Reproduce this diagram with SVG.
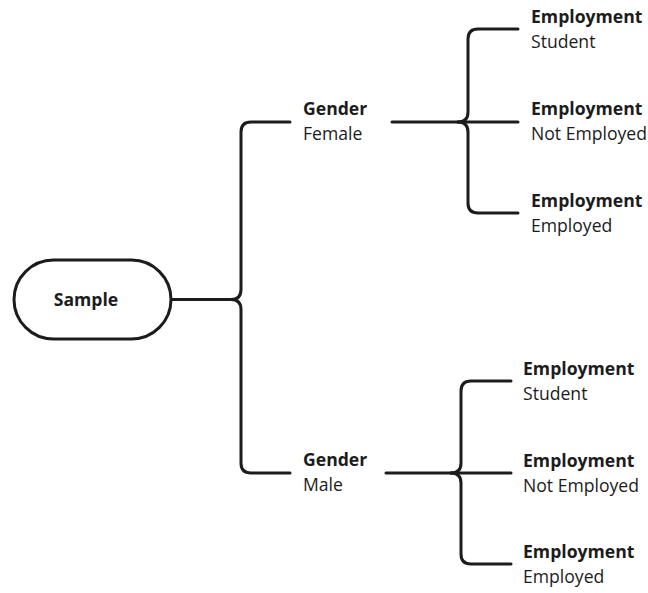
<svg xmlns="http://www.w3.org/2000/svg" width="648" height="593" viewBox="0 0 648 593">
<style>
.ln{fill:none;stroke:#1c1c1c;stroke-width:3;stroke-linecap:round;stroke-linejoin:round}
.t{font-family:"Open Sans","Noto Sans",sans-serif;font-size:17.6px;fill:#1c1c1c}
.b{font-weight:bold}
</style>
<rect width="648" height="593" fill="#fff"/>
<g id="connectors">
<path class="ln" d="M172,299.5 H231 Q241,299.5 241,289.5 V132 Q241,122 251,122 H290"/>
<path class="ln" d="M231,299.5 Q241,299.5 241,309.5 V463 Q241,473 251,473 H290"/>
<path class="ln" d="M392,122 H518"/>
<path class="ln" d="M458,122 Q468,122 468,112 V39 Q468,29 478,29 H518"/>
<path class="ln" d="M458,122 Q468,122 468,132 V203 Q468,213 478,213 H518"/>
<path class="ln" d="M386,473 H511"/>
<path class="ln" d="M451,473 Q461,473 461,463 V391 Q461,381 471,381 H511"/>
<path class="ln" d="M451,473 Q461,473 461,483 V554 Q461,564 471,564 H511"/>
</g>
<g id="sample">
<rect x="14" y="260" width="157" height="79" rx="39.5" fill="#fff" stroke="#1c1c1c" stroke-width="3"/>
<text class="t b" x="86" y="305.5" text-anchor="middle">Sample</text>
</g>
<g id="gender-female">
<text class="t b" x="303" y="115">Gender</text>
<text class="t" x="303" y="140">Female</text>
</g>
<g id="gender-male">
<text class="t b" x="303" y="466">Gender</text>
<text class="t" x="303" y="491">Male</text>
</g>
<g id="f-student">
<text class="t b" x="531" y="23">Employment</text>
<text class="t" x="531" y="48">Student</text>
</g>
<g id="f-notemployed">
<text class="t b" x="531" y="115">Employment</text>
<text class="t" x="531" y="140">Not Employed</text>
</g>
<g id="f-employed">
<text class="t b" x="531" y="207">Employment</text>
<text class="t" x="531" y="232">Employed</text>
</g>
<g id="m-student">
<text class="t b" x="523" y="375">Employment</text>
<text class="t" x="523" y="400">Student</text>
</g>
<g id="m-notemployed">
<text class="t b" x="523" y="467">Employment</text>
<text class="t" x="523" y="492">Not Employed</text>
</g>
<g id="m-employed">
<text class="t b" x="523" y="558">Employment</text>
<text class="t" x="523" y="583">Employed</text>
</g>
</svg>
